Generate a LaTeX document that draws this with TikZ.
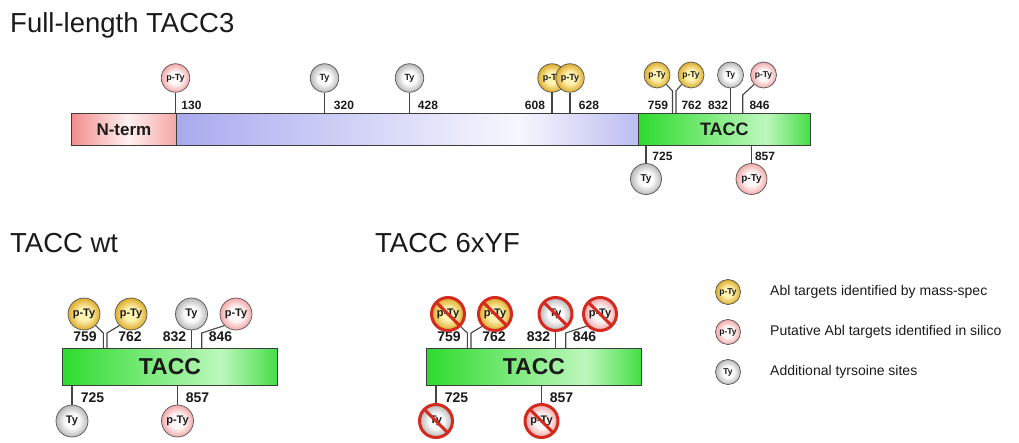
\documentclass[tikz,border=0pt]{standalone}
\usepackage{fontspec}
\setmainfont{Liberation Sans}
\definecolor{barline}{HTML}{3C3C3C}
\definecolor{cline}{HTML}{555555}
\definecolor{stemc}{HTML}{444444}
\definecolor{xred}{HTML}{D42A1F}
\definecolor{txt}{HTML}{1A1A1A}
\definecolor{yin}{HTML}{FFF3B2}
\definecolor{yout}{HTML}{DDAC2C}
\definecolor{pin}{HTML}{FFF8F8}
\definecolor{pout}{HTML}{F2A8A8}
\definecolor{gin}{HTML}{FDFDFD}
\definecolor{gout}{HTML}{B8B8B8}
\definecolor{nA}{HTML}{F28C8C}
\definecolor{nB}{HTML}{FFF0F0}
\definecolor{nC}{HTML}{F5A6A6}
\definecolor{bA}{HTML}{A9AAEE}
\definecolor{bB}{HTML}{F7F7FE}
\definecolor{bC}{HTML}{BDBDF2}
\definecolor{tA}{HTML}{2EDB2E}
\definecolor{tB}{HTML}{BDF7BD}
\definecolor{tC}{HTML}{45DE45}
\pgfdeclareradialshading{yball}{\pgfpoint{0bp}{0bp}}{color(0bp)=(yin); color(10bp)=(yin); color(25bp)=(yout); color(50bp)=(yout)}
\pgfdeclareradialshading{pball}{\pgfpoint{0bp}{0bp}}{color(0bp)=(pin); color(11bp)=(pin); color(25bp)=(pout); color(50bp)=(pout)}
\pgfdeclareradialshading{gball}{\pgfpoint{0bp}{0bp}}{color(0bp)=(gin); color(11bp)=(gin); color(25bp)=(gout); color(50bp)=(gout)}
\pgfdeclarehorizontalshading{nshade}{100bp}{color(0bp)=(nA); color(25bp)=(nA); color(52bp)=(nB); color(75bp)=(nC); color(100bp)=(nC)}
\pgfdeclarehorizontalshading{bshade}{100bp}{color(0bp)=(bA); color(25bp)=(bA); color(62bp)=(bB); color(75bp)=(bC); color(100bp)=(bC)}
\pgfdeclarehorizontalshading{tshade}{100bp}{color(0bp)=(tA); color(25bp)=(tA); color(62bp)=(tB); color(75bp)=(tC); color(100bp)=(tC)}
\newcommand\tpanel[1]{%
  \node[bar, shading=tshade, minimum width=215pt, minimum height=37pt, font=\bfseries\fontsize{23}{23}\selectfont] (#1bar) at (62,348) {TACC};
  \node[ysite, bigsite] (#1s759) at (84,314) {p-Ty};
  \node[ysite, bigsite] (#1s762) at (131,314) {p-Ty};
  \node[gsite, bigsite] (#1s832) at (191.5,314) {Ty};
  \node[psite, bigsite] (#1s846) at (236,314) {p-Ty};
  \node[gsite, bigsite] (#1s725) at (72,421) {Ty};
  \node[psite, bigsite] (#1s857) at (177.5,421) {p-Ty};
  \draw[stem] (#1s759.-45) -- (103.3,333) -- (103.3,333 |- #1bar.north);
  \draw[stem] (#1s762.-135) -- (107,333) -- (107,333 |- #1bar.north);
  \draw[stem] (#1s832.south) -- (#1s832.south |- #1bar.north);
  \draw[stem] (#1s846.-135) -- (201.7,333) -- (201.7,333 |- #1bar.north);
  \draw[stem] (#1s725.north) -- (#1s725.north |- #1bar.south);
  \draw[stem] (#1s857.north) -- (#1s857.north |- #1bar.south);
  \node[bignum] (#1l759) at (85,337) {759};
  \node[bignum] (#1l762) at (130,337) {762};
  \node[bignum] (#1l832) at (174.5,337) {832};
  \node[bignum] (#1l846) at (220.5,337) {846};
  \node[bignum] (#1l725) at (92.5,398) {725};
  \node[bignum] (#1l857) at (197.5,398) {857};
}
\newcommand\xoutsite[1]{%
  \draw[xline] (#1.center) circle[radius=16.5pt];
  \draw[xline] (#1.135) -- (#1.-45);
}
\begin{document}
\begin{tikzpicture}[x=1pt,y=-1pt,
  bar/.style={draw=barline, line width=0.8pt, inner sep=0pt, minimum height=32pt, anchor=north west, text=txt, font=\bfseries\fontsize{18}{18}\selectfont},
  site/.style={circle, draw=cline, line width=0.7pt, inner sep=0pt, text=txt, font=\bfseries\fontsize{8.5}{8.5}\selectfont},
  ysite/.style={site, shading=yball},
  psite/.style={site, shading=pball},
  gsite/.style={site, shading=gball},
  midsite/.style={minimum size=28.5pt, font=\bfseries\fontsize{9}{9}\selectfont},
  smallsite/.style={minimum size=26pt},
  lowsite/.style={minimum size=31pt, font=\bfseries\fontsize{10}{10}\selectfont},
  bigsite/.style={minimum size=32pt, font=\bfseries\fontsize{11}{11}\selectfont},
  keysite/.style={minimum size=25pt, font=\bfseries\fontsize{8.5}{8.5}\selectfont},
  stem/.style={draw=stemc, line width=1.1pt},
  num/.style={inner sep=0pt, text=txt, font=\bfseries\fontsize{12}{12}\selectfont},
  bignum/.style={inner sep=0pt, text=txt, font=\bfseries\fontsize{14}{14}\selectfont},
  title/.style={inner sep=0pt, anchor=base west, text=txt, font=\fontsize{27.5}{27.5}\selectfont},
  legtxt/.style={inner sep=0pt, anchor=west, text=txt, font=\fontsize{14}{14}\selectfont},
  xline/.style={draw=xred, line width=3pt}
]
\useasboundingbox (0,0) rectangle (1019,443);

% titles
\node[title] (t1) at (10,33) {Full-length TACC3};
\node[title] (t2) at (10,253) {TACC wt};
\node[title] (t3) at (375,253) {TACC 6xYF};

% full-length bar
\node[bar, shading=nshade, minimum width=105pt, font=\bfseries\fontsize{17}{17}\selectfont] (nterm) at (71,113) {N-term};
\node[bar, shading=bshade, minimum width=462pt] (mid) at (176,113) {};
\node[bar, shading=tshade, minimum width=172pt] (tacc) at (638,113) {TACC};

% sites above
\node[psite, midsite] (s130) at (175.5,78) {p-Ty};
\node[gsite, midsite] (s320) at (324.5,78) {Ty};
\node[gsite, midsite] (s428) at (409.5,78) {Ty};
\node[ysite, midsite] (s608) at (552,78) {p-Ty};
\node[ysite, midsite] (s628) at (570,78) {p-Ty};
\node[ysite, smallsite] (c759) at (657,75) {p-Ty};
\node[ysite, smallsite] (c762) at (691,75) {p-Ty};
\node[gsite, smallsite] (c832) at (730.5,75) {Ty};
\node[psite, smallsite] (c846) at (763.5,75) {p-Ty};
% sites below
\node[gsite, lowsite] (c725) at (646,179) {Ty};
\node[psite, lowsite] (c857) at (751.5,179) {p-Ty};

% stems
\draw[stem] (s130.south) -- (s130.south |- mid.north);
\draw[stem] (s320.south) -- (s320.south |- mid.north);
\draw[stem] (s428.south) -- (s428.south |- mid.north);
\draw[stem] (552,92) -- (552,92 |- mid.north);
\draw[stem] (s628.south) -- (s628.south |- mid.north);
\draw[stem] (c759.-45) -- (672.5,91) -- (672.5,91 |- tacc.north);
\draw[stem] (c762.-135) -- (676,91) -- (676,91 |- tacc.north);
\draw[stem] (c832.south) -- (c832.south |- tacc.north);
\draw[stem] (c846.-135) -- (742.7,95) -- (742.7,95 |- tacc.north);
\draw[stem] (c725.north) -- (c725.north |- tacc.south);
\draw[stem] (c857.north) -- (c857.north |- tacc.south);

% numbers
\node[num] (l130) at (191.5,105) {130};
\node[num] (l320) at (344,105) {320};
\node[num] (l428) at (428,105) {428};
\node[num] (l608) at (535,105) {608};
\node[num] (l628) at (589,105) {628};
\node[num] (l759) at (658,105) {759};
\node[num] (l762) at (691.5,105) {762};
\node[num] (l832) at (718,105) {832};
\node[num] (l846) at (759.5,105) {846};
\node[num] (l725) at (662.5,156) {725};
\node[num] (l857) at (765,156) {857};

% TACC wt
\tpanel{a}
% TACC 6xYF
\begin{scope}[xshift=364pt]
\tpanel{b}
\end{scope}
\xoutsite{bs759}
\xoutsite{bs762}
\xoutsite{bs832}
\xoutsite{bs846}
\xoutsite{bs725}
\xoutsite{bs857}

% legend
\node[ysite, keysite] (k1) at (728,292) {p-Ty};
\node[psite, keysite] (k2) at (728,332) {p-Ty};
\node[gsite, keysite] (k3) at (728,372) {Ty};
\node[legtxt] (k1t) at (770,292) {Abl targets identified by mass-spec};
\node[legtxt] (k2t) at (770,332) {Putative Abl targets identified in silico};
\node[legtxt] (k3t) at (770,372) {Additional tyrsoine sites};
\end{tikzpicture}
\end{document}
